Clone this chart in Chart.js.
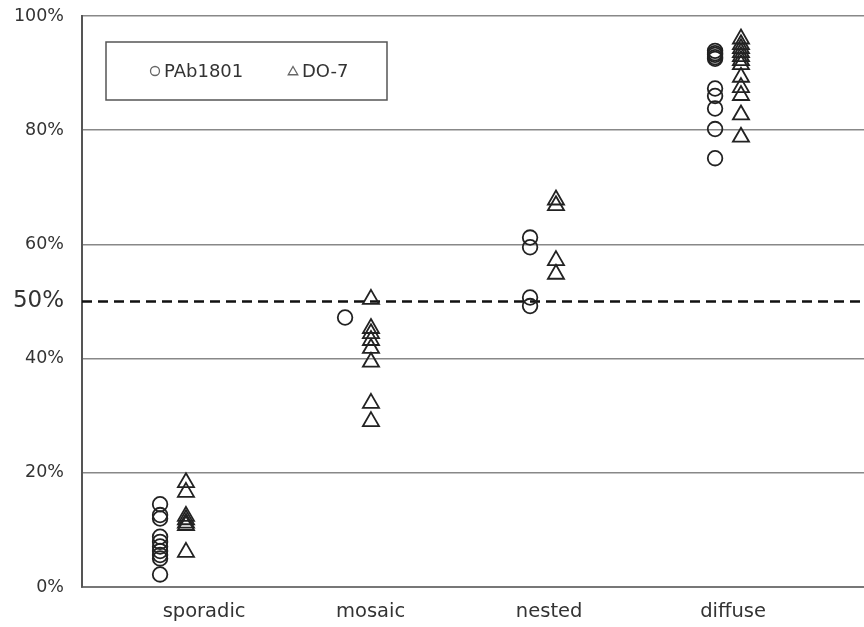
<!DOCTYPE html>
<html lang="en">
<head>
    <meta charset="UTF-8">
    <title>PAb1801 / DO-7</title>
    <script src="https://cdn.jsdelivr.net/npm/chart.js"></script>
    <style>
        html, body {
            margin: 0;
            padding: 0;
            overflow: hidden;
            background-color: #fff;
        }

        #pattern-chart {
            display: block;
        }
    </style>
</head>
<body>

<canvas id="pattern-chart" width="864" height="627"></canvas>

<script>
    // categories on the x axis (one group of markers per category)
    const categories = ['sporadic', 'mosaic', 'nested', 'diffuse'];

    // percent positive
    const pab1801Sporadic = [14.5, 12.6, 12.0, 8.8, 7.9, 7.1, 6.3, 5.6, 5.0, 2.2];
    const pab1801Mosaic = [47.2];
    const pab1801Nested = [61.2, 59.5, 50.7, 49.2];
    const pab1801Diffuse = [93.9, 93.5, 93.2, 92.8, 92.5, 87.3, 86.0, 83.8, 80.2, 75.1];

    const do7Sporadic = [18.3, 16.6, 12.4, 11.8, 11.2, 10.8, 6.1];
    const do7Mosaic = [50.4, 45.3, 44.4, 43.2, 41.8, 39.4, 32.2, 29.0];
    const do7Nested = [67.8, 66.8, 57.2, 54.8];
    const do7Diffuse = [96.0, 95.0, 94.3, 93.6, 92.9, 92.2, 91.5, 89.3, 87.5, 86.1, 82.7, 78.8];

    const yTicks = [0, 20, 40, 50, 60, 80, 100];
    const cutoff = 50;

    // layout of the x axis (data units: category k sits at k)
    const xMin = 0.578;
    const xMax = 4.805;
    const seriesOffset = 0.14;
    const labelPos = [1.238, 2.138, 3.103, 4.097];

    function toPoints(groups, offset) {
        const pts = [];
        groups.forEach((vals, i) => {
            vals.forEach(v => pts.push({ x: i + 1 + offset, y: v }));
        });
        return pts;
    }

    const legendBox = {
        id: 'legendBox',
        afterDraw(chart) {
            const ctx = chart.ctx;
            ctx.save();
            ctx.strokeStyle = '#555';
            ctx.lineWidth = 1.5;
            ctx.strokeRect(106, 42, 281, 58);

            ctx.font = '18px "DejaVu Sans"';
            ctx.textBaseline = 'middle';
            const items = [
                { ds: chart.data.datasets[0], x: 155 },
                { ds: chart.data.datasets[1], x: 293 }
            ];
            items.forEach(item => {
                const isCircle = item.ds.pointStyle === 'circle';
                ctx.strokeStyle = '#666';
                ctx.fillStyle = 'rgba(0,0,0,0)';
                ctx.lineWidth = 1.3;
                Chart.helpers.drawPoint(ctx, {
                    pointStyle: item.ds.pointStyle,
                    radius: isCircle ? 4.5 : 5.5,
                    borderWidth: 1.3
                }, item.x, isCircle ? 71 : 72);
                ctx.fillStyle = '#333';
                ctx.fillText(item.ds.label, item.x + 9, 72);
            });
            ctx.restore();
        }
    };

    const ctx = document.getElementById('pattern-chart').getContext('2d');
    new Chart(ctx, {
        type: 'scatter',
        data: {
            datasets: [
                {
                    label: 'PAb1801',
                    data: toPoints([pab1801Sporadic, pab1801Mosaic, pab1801Nested, pab1801Diffuse], 0),
                    pointStyle: 'circle',
                    pointRadius: 7.3,
                    pointBorderWidth: 1.8,
                    borderColor: '#222',
                    backgroundColor: 'rgba(0,0,0,0)'
                },
                {
                    label: 'DO-7',
                    data: toPoints([do7Sporadic, do7Mosaic, do7Nested, do7Diffuse], seriesOffset),
                    pointStyle: 'triangle',
                    pointRadius: 9.3,
                    pointBorderWidth: 1.8,
                    borderColor: '#222',
                    backgroundColor: 'rgba(0,0,0,0)'
                },
                {
                    label: 'cutoff',
                    type: 'line',
                    data: [{ x: xMin, y: cutoff }, { x: xMax, y: cutoff }],
                    borderColor: '#111',
                    borderWidth: 2.6,
                    borderDash: [10, 6],
                    pointRadius: 0,
                    fill: false
                }
            ]
        },
        options: {
            responsive: false,
            animation: false,
            layout: {
                autoPadding: false,
                padding: { top: 16, right: 0, left: 0, bottom: 0 }
            },
            plugins: {
                legend: { display: false },
                tooltip: { enabled: false }
            },
            scales: {
                x: {
                    type: 'linear',
                    min: xMin,
                    max: xMax,
                    afterBuildTicks: axis => {
                        axis.ticks = labelPos.map(v => ({ value: v }));
                    },
                    afterFit: scale => {
                        scale.height = 40;
                        scale.paddingLeft = 0;
                        scale.paddingRight = 0;
                    },
                    grid: { display: false, drawTicks: false },
                    border: { display: true, color: '#777', width: 2 },
                    ticks: {
                        autoSkip: false,
                        maxRotation: 0,
                        padding: 13,
                        color: '#333',
                        font: { family: 'DejaVu Sans', size: 19.5 },
                        callback: (value, index) => categories[index]
                    }
                },
                y: {
                    min: 0,
                    max: 100,
                    afterBuildTicks: axis => {
                        axis.ticks = yTicks.map(v => ({ value: v }));
                    },
                    afterFit: scale => {
                        scale.width = 82;
                        scale.paddingTop = 0;
                        scale.paddingBottom = 0;
                    },
                    grid: {
                        drawTicks: false,
                        lineWidth: 1.5,
                        color: c => c.tick && c.tick.value === cutoff ? 'rgba(0,0,0,0)' : '#888'
                    },
                    border: { display: true, color: '#555', width: 2 },
                    ticks: {
                        padding: 18,
                        color: '#333',
                        font: c => ({
                            family: 'DejaVu Sans',
                            size: c.tick && c.tick.value === cutoff ? 23 : 17.5
                        }),
                        callback: v => v + '%'
                    }
                }
            }
        },
        plugins: [legendBox]
    });
</script>

</body>
</html>
